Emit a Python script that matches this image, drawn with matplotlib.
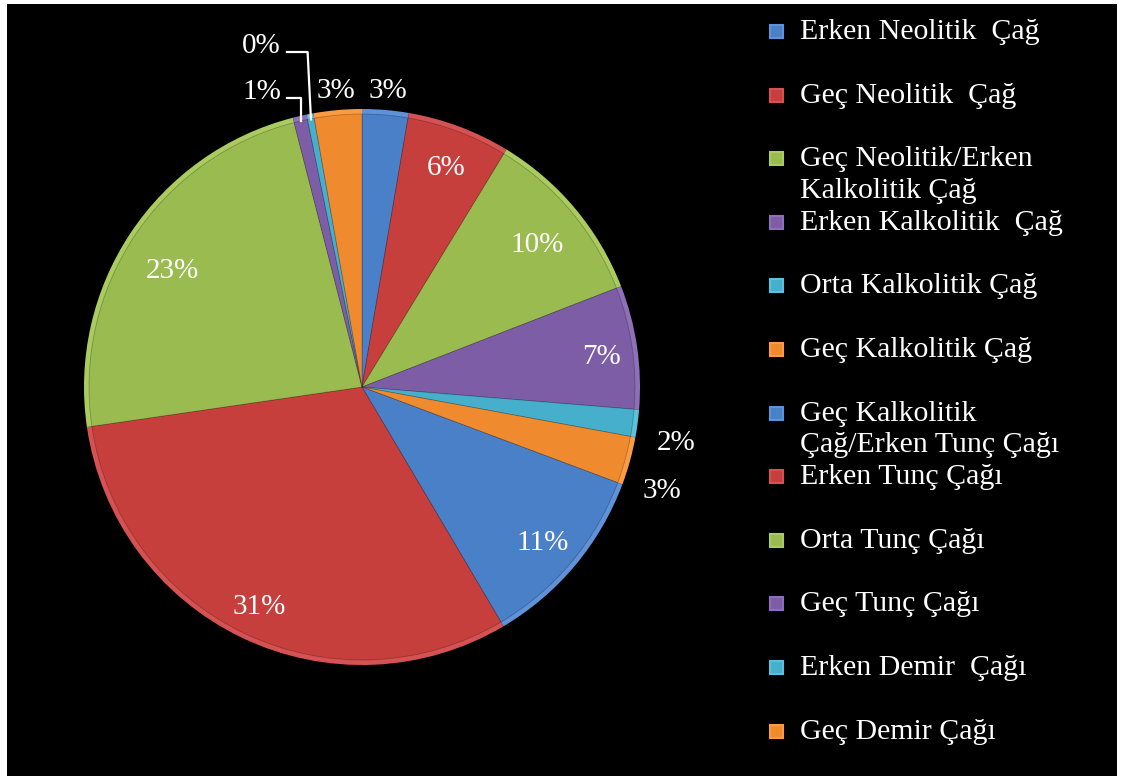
import numpy as np
import matplotlib
matplotlib.use("Agg")
import matplotlib.pyplot as plt
from matplotlib.patches import Rectangle

periods = [
    "Erken Neolitik  Çağ",
    "Geç Neolitik  Çağ",
    "Geç Neolitik/Erken\nKalkolitik Çağ",
    "Erken Kalkolitik  Çağ",
    "Orta Kalkolitik Çağ",
    "Geç Kalkolitik Çağ",
    "Geç Kalkolitik\nÇağ/Erken Tunç Çağı",
    "Erken Tunç Çağı",
    "Orta Tunç Çağı",
    "Geç Tunç Çağı",
    "Erken Demir  Çağı",
    "Geç Demir Çağı",
]
shares = [2.7, 6.0, 10.4, 7.2, 1.6, 2.8, 10.8, 31.2, 23.3, 0.8, 0.4, 2.8]
colors = ["#4a80c8", "#c63f3d", "#9abb50", "#7d5ea6", "#46afcb", "#f08a2e",
          "#4a80c8", "#c63f3d", "#9abb50", "#7d5ea6", "#46afcb", "#f08a2e"]
rims = ["#5f92d8", "#d65252", "#aacb60", "#8e70b8", "#5cc2dc", "#fb9c44",
        "#5f92d8", "#d65252", "#aacb60", "#8e70b8", "#5cc2dc", "#fb9c44"]

# radial distance of each percentage label (None -> callout with leader line)
label_r = [1.085, 0.86, 0.82, 0.87, 1.14, 1.12, 0.85, 0.86, 0.82, None, None, 1.085]
# extra vertical nudge (data units) for the outside labels on the right
label_dy = [0, 0, 0, 0, -0.035, -0.06, 0, 0, -0.02, 0, 0, 0]

W, H = 1122, 776
plt.rcParams["font.family"] = ["Liberation Serif", "DejaVu Serif"]
fig = plt.figure(figsize=(W / 100, H / 100), dpi=100, facecolor="white")

# black plot area with a thin white margin on the left, top and right
bg = fig.add_axes([7 / W, 0, (1117 - 7) / W, (776 - 4) / H])
bg.set_facecolor("black")
bg.set_xticks([])
bg.set_yticks([])
for s in bg.spines.values():
    s.set_visible(False)

R = 278
cx, cy = 362, 387
half = 300
ax = fig.add_axes([(cx - half) / W, (H - cy - half) / H, 2 * half / W, 2 * half / H])
ax.set_facecolor("none")
ax.set_zorder(2)

# outer rim in a lighter tone, then the slice body on top
ax.pie(shares, colors=rims, startangle=90, counterclock=False, radius=1.0,
       wedgeprops=dict(linewidth=0))
wedges, _ = ax.pie(shares, colors=colors, startangle=90, counterclock=False,
                   radius=0.982, wedgeprops=dict(linewidth=0.6, edgecolor="#00000040"))
lim = half / R
ax.set_xlim(-lim, lim)
ax.set_ylim(-lim, lim)
ax.set_aspect("equal")
ax.axis("off")

fs = 21
base = -0.016  # text boxes sit a little high with va="center"
for w, v, r, dy in zip(wedges, shares, label_r, label_dy):
    if r is None:
        continue
    mid = np.deg2rad((w.theta1 + w.theta2) / 2)
    ax.text(r * np.cos(mid), r * np.sin(mid) + dy + base, f"{v:.0f}%",
            color="white", fontsize=fs, ha="center", va="center", clip_on=False)

# callouts for the two thinnest slices
callouts = {9: (-0.291, 1.076, 1.040), 10: (-0.291, 1.241, 1.205)}
for i, (tx, ty, ly) in callouts.items():
    w = wedges[i]
    mid = np.deg2rad((w.theta1 + w.theta2) / 2)
    ex, ey = 0.98 * np.cos(mid), 0.98 * np.sin(mid)
    ax.text(tx, ty + base, f"{shares[i]:.0f}%", color="white", fontsize=fs,
            ha="right", va="center", clip_on=False)
    ax.plot([tx + 0.021, ex - 0.012 + 0.012 * (i == 9), ex], [ly, ly, ey],
            color="white", lw=1.6, clip_on=False)

# legend drawn row by row on the right
row0, step = 30, 63.6
for i, (name, c, rc) in enumerate(zip(periods, colors, rims)):
    y = row0 + i * step
    fig.patches.append(Rectangle((770 / W, 1 - (y + 8) / H), 13 / W, 13 / H,
                                 transform=fig.transFigure, facecolor=c,
                                 edgecolor=rc, lw=1.5, zorder=3))
    fig.text(800 / W, 1 - (y - 11) / H, name, color="white", fontsize=fs + 0.5,
             ha="left", va="top", linespacing=1.28, zorder=3)

fig.savefig("out.png", dpi=100, facecolor="white")
